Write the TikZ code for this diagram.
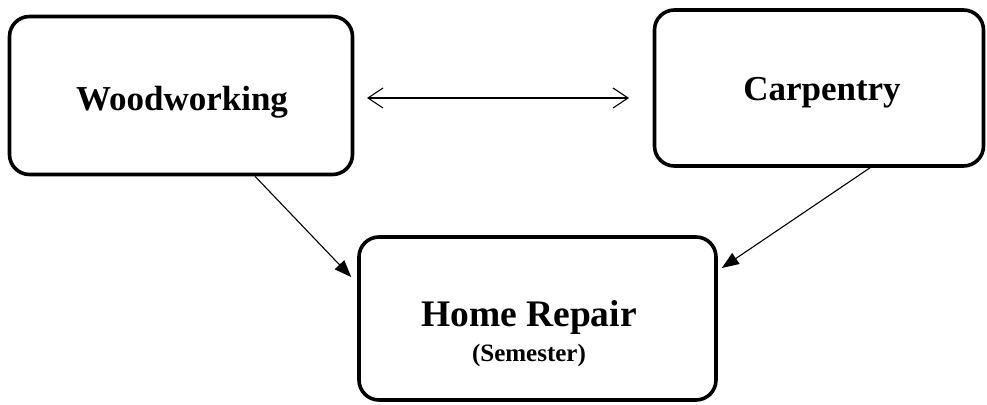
\documentclass[tikz,border=0pt]{standalone}
\usepackage{fontspec}
\setmainfont{Liberation Serif}
\usetikzlibrary{arrows.meta}
\begin{document}
\begin{tikzpicture}[x=1pt,y=-1pt,
  box/.style={draw=black, line width=3.6pt, rounded corners=20pt, inner sep=0pt},
  lbl/.style={font=\bfseries\fontsize{35}{40}\selectfont, inner sep=0pt, anchor=base},
  biglbl/.style={font=\bfseries\fontsize{37.5}{42}\selectfont, inner sep=0pt, anchor=base},
  sublbl/.style={font=\bfseries\fontsize{25}{30}\selectfont, inner sep=0pt, anchor=base},
  dbl/.style={line width=1.1pt, {Straight Barb[length=15pt,width=20pt]}-{Straight Barb[length=15pt,width=20pt]}},
  arr/.style={line width=1.1pt, -{Triangle[length=17pt,width=13pt]}}]
\path[use as bounding box] (0,0) rectangle (987,404);
\node[box, minimum width=343pt, minimum height=158pt] (wood) at (181,95.5) {};
\node[box, minimum width=329pt, minimum height=156pt] (carp) at (819,88) {};
\node[box, minimum width=357pt, minimum height=163pt] (home) at (537.5,318.5) {};
\node[lbl] (woodt) at (182,110) {Woodworking};
\node[lbl] (carpt) at (822,100) {Carpentry};
\node[biglbl] (homet) at (529,326) {Home Repair};
\node[sublbl] (semt) at (529,361) {(Semester)};
\coordinate (dl) at (367,98);
\coordinate (dr) at (629,98);
\draw[dbl] (dl) -- (dr);
\draw[arr] ([xshift=74pt]wood.south) -- ([xshift=-6pt,yshift=41.5pt]home.west);
\draw[arr] ([xshift=51pt]carp.south) -- ([xshift=4pt,yshift=50.5pt]home.east);
\end{tikzpicture}
\end{document}
